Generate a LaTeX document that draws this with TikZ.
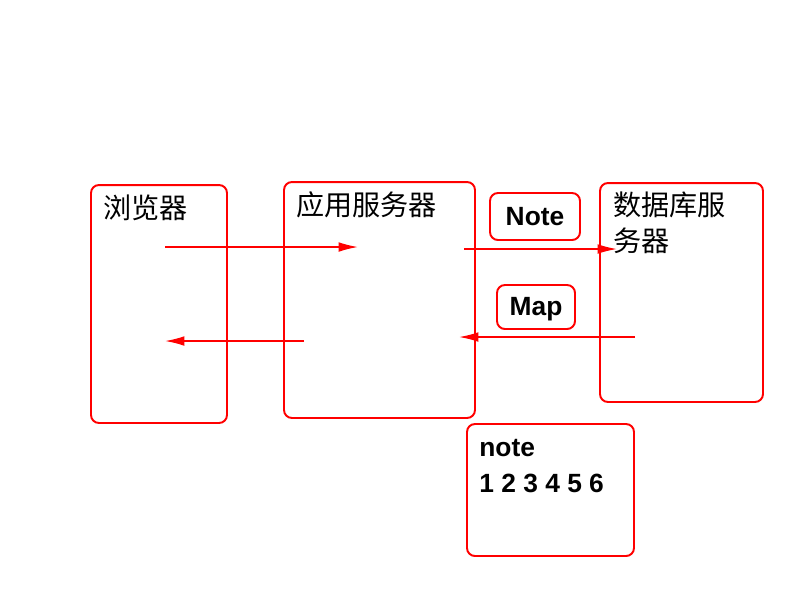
\documentclass[tikz,border=0pt]{standalone}
\usepackage{fontspec}
\setmainfont{Liberation Sans}
\newfontfamily\cjk{Noto Sans CJK SC}
\usetikzlibrary{arrows.meta}
\begin{document}
\begin{tikzpicture}[x=0.02cm,y=-0.02cm,
  box/.style={draw=red,line width=1.1pt,rounded corners=4.5pt,inner sep=0pt,outer sep=0pt},
  zh/.style={font=\cjk\fontsize{16}{20}\selectfont,anchor=base west,align=left,inner sep=0pt},
  en/.style={font=\fontsize{15}{20}\selectfont\bfseries,inner sep=0pt},
  msg/.style={draw=red,line width=0.85pt,->},
  >={Latex[length=11pt,width=5.5pt]}]
\useasboundingbox (0,0) rectangle (800,600);

\node[box,minimum width=2.72cm,minimum height=4.76cm] (browser) at (159,304) {};
\node[box,minimum width=3.82cm,minimum height=4.72cm] (app) at (379.5,300) {};
\node[box,minimum width=3.26cm,minimum height=4.38cm] (db) at (681.5,292.5) {};
\node[box,minimum width=1.8cm,minimum height=0.94cm,en] (note) at (535,216.5) {Note};
\node[box,minimum width=1.56cm,minimum height=0.88cm,en,text depth=0.5pt] (map) at (536,307) {Map};
\node[box,minimum width=3.34cm,minimum height=2.64cm] (memo) at (550.5,490) {};

\node[zh] (browserlabel) at (103,218) {浏览器};
\node[zh] (applabel) at (296,215) {应用服务器};
\node[zh] (dblabel) at (613,251) {数据库服\\务器};
\node[en,anchor=base west,align=left] (memolabel) at (479,492) {note\\1 2 3 4 5 6};

\coordinate (b1) at (165,247); \coordinate (a1) at (358,247);
\coordinate (a2) at (304,341); \coordinate (b2) at (165,341);
\coordinate (a3) at (464,249); \coordinate (d1) at (617,249);
\coordinate (d2) at (635,337); \coordinate (a4) at (459,337);
\foreach \s/\t in {b1/a1,a2/b2,a3/d1,d2/a4}
  \draw[msg] (\s)--(\t);

\end{tikzpicture}
\end{document}
